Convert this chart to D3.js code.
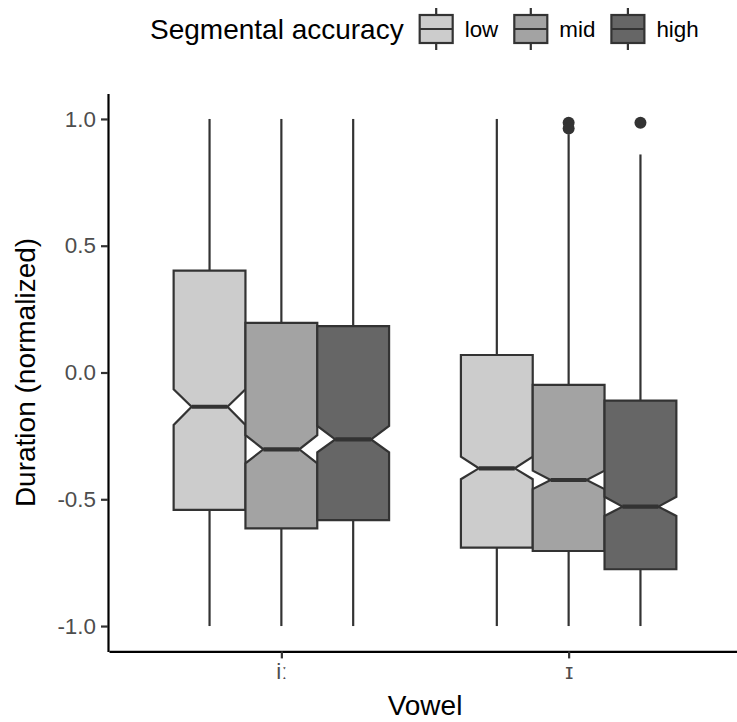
<!DOCTYPE html>
<html>
<head>
<meta charset="utf-8">
<script src="https://cdn.jsdelivr.net/npm/d3@7"></script>
<style>
  body { margin: 0; background: #fff; }
  svg { font-family: "Liberation Sans", Arial, sans-serif; }
</style>
</head>
<body>
<svg id="chart" width="737" height="722"></svg>
<script>
const vowels = ["iː", "ɪ"];
const accuracy = ["low", "mid", "high"];
const fills = ["#cccccc", "#a3a3a3", "#666666"];

// one value per box, order: iː-low, iː-mid, iː-high, ɪ-low, ɪ-mid, ɪ-high
const whiskerLow  = [-1.0, -1.0, -1.0, -1.0, -1.0, -1.0];
const q1          = [-0.542, -0.615, -0.582, -0.691, -0.704, -0.776];
const notchLow    = [-0.207, -0.358, -0.315, -0.421, -0.460, -0.566];
const median      = [-0.135, -0.303, -0.264, -0.378, -0.424, -0.529];
const notchHigh   = [-0.066, -0.247, -0.211, -0.332, -0.387, -0.490];
const q3          = [0.402, 0.196, 0.183, 0.069, -0.049, -0.111];
const whiskerHigh = [1.0, 1.0, 1.0, 1.0, 0.94, 0.86];

const outlierVowel = ["ɪ", "ɪ", "ɪ"];
const outlierAcc   = ["mid", "mid", "high"];
const outlierValue = [0.985, 0.962, 0.985];

const yTicks = [-1.0, -0.5, 0.0, 0.5, 1.0];

const boxes = [];
vowels.forEach((v, i) => accuracy.forEach((a, j) => {
  const k = i * accuracy.length + j;
  boxes.push({ vowel: v, acc: a, fill: fills[j],
    lo: whiskerLow[k], q1: q1[k], nl: notchLow[k], med: median[k],
    nh: notchHigh[k], q3: q3[k], hi: whiskerHigh[k] });
}));
const outliers = outlierValue.map((v, i) => ({ vowel: outlierVowel[i], acc: outlierAcc[i], v }));

const svg = d3.select("#chart");
const panel = { left: 109, right: 741, top: 93.6, bottom: 651.4 };

const x = d3.scalePoint().domain(vowels).range([panel.left, panel.right]).padding(0.6);
const dodge = d3.scaleBand().domain(accuracy)
  .range([-0.375 * x.step(), 0.375 * x.step()]);

const ext = d3.extent([...whiskerLow, ...whiskerHigh, ...outlierValue]);
const pad = (ext[1] - ext[0]) * 0.05;
const y = d3.scaleLinear().domain([ext[0] - pad, ext[1] + pad]).range([panel.bottom, panel.top]);

const fmt = d => d3.format(".1f")(d).replace("−", "-");
const ink = "#333333";

// whiskers
const g = svg.append("g");
boxes.forEach(b => {
  const cx = x(b.vowel) + dodge(b.acc) + dodge.bandwidth() / 2;
  g.append("line").attr("x1", cx).attr("x2", cx)
    .attr("y1", y(b.q3)).attr("y2", y(b.hi))
    .attr("stroke", ink).attr("stroke-width", 2.2);
  g.append("line").attr("x1", cx).attr("x2", cx)
    .attr("y1", y(b.q1)).attr("y2", y(b.lo))
    .attr("stroke", ink).attr("stroke-width", 2.2);
});

// notched boxes
boxes.forEach(b => {
  const x0 = x(b.vowel) + dodge(b.acc);
  const w = dodge.bandwidth();
  const x1 = x0 + w, ins = w * 0.25;
  const pts = [
    [x0, y(b.q3)], [x0, y(b.nh)], [x0 + ins, y(b.med)], [x0, y(b.nl)], [x0, y(b.q1)],
    [x1, y(b.q1)], [x1, y(b.nl)], [x1 - ins, y(b.med)], [x1, y(b.nh)], [x1, y(b.q3)]
  ];
  g.append("path").attr("d", d3.line()(pts) + "Z")
    .attr("fill", b.fill).attr("stroke", ink).attr("stroke-width", 2.2)
    .attr("stroke-linejoin", "miter");
  g.append("line").attr("x1", x0 + ins).attr("x2", x1 - ins)
    .attr("y1", y(b.med)).attr("y2", y(b.med))
    .attr("stroke", ink).attr("stroke-width", 4.2);
});

// outliers
g.selectAll("circle").data(outliers).join("circle")
  .attr("cx", d => x(d.vowel) + dodge(d.acc) + dodge.bandwidth() / 2)
  .attr("cy", d => y(d.v))
  .attr("r", 6)
  .attr("fill", ink);

// axes
const yAxis = svg.append("g").attr("transform", `translate(${panel.left - 1},0)`)
  .call(d3.axisLeft(y).tickValues(yTicks).tickFormat(fmt).tickSize(7).tickSizeOuter(0).tickPadding(5));
const xAxis = svg.append("g").attr("transform", `translate(0,${panel.bottom})`)
  .call(d3.axisBottom(x).tickSize(7).tickSizeOuter(0).tickPadding(5));

[yAxis, xAxis].forEach(a => {
  a.select(".domain").attr("stroke", "#000").attr("stroke-width", 2.2);
  a.selectAll(".tick line").attr("stroke", ink).attr("stroke-width", 2.2);
  a.selectAll(".tick text").attr("fill", "#4d4d4d")
    .style("font-size", "22.4px").style("font-family", "'Liberation Sans', Arial, sans-serif");
});

svg.append("text")
  .attr("x", (panel.left + panel.right) / 2).attr("y", 715)
  .attr("text-anchor", "middle").style("font-size", "28px").attr("fill", "#000")
  .text("Vowel");

svg.append("text")
  .attr("transform", `translate(35,${(panel.top + panel.bottom) / 2}) rotate(-90)`)
  .attr("text-anchor", "middle").style("font-size", "28px").attr("fill", "#000")
  .text("Duration (normalized)");

// legend
const leg = svg.append("g");
const title = leg.append("text").attr("x", 150).attr("y", 39)
  .style("font-size", "28px").attr("fill", "#000").text("Segmental accuracy");
let lx = 150 + title.node().getComputedTextLength() + 16;
const keyW = 33, keyTop = 15, keyBot = 43, keyMid = 29;
accuracy.forEach((a, j) => {
  const cx = lx + keyW / 2;
  leg.append("line").attr("x1", cx).attr("x2", cx).attr("y1", 8).attr("y2", 50)
    .attr("stroke", ink).attr("stroke-width", 2.2);
  leg.append("rect").attr("x", lx).attr("y", keyTop).attr("width", keyW).attr("height", keyBot - keyTop)
    .attr("fill", fills[j]).attr("stroke", ink).attr("stroke-width", 2.2);
  leg.append("line").attr("x1", lx).attr("x2", lx + keyW).attr("y1", keyMid).attr("y2", keyMid)
    .attr("stroke", ink).attr("stroke-width", 2.2);
  const t = leg.append("text").attr("x", lx + keyW + 12).attr("y", keyMid + 8)
    .style("font-size", "22.4px").attr("fill", "#000").text(a);
  lx += keyW + 12 + t.node().getComputedTextLength() + 16;
});
</script>
</body>
</html>
